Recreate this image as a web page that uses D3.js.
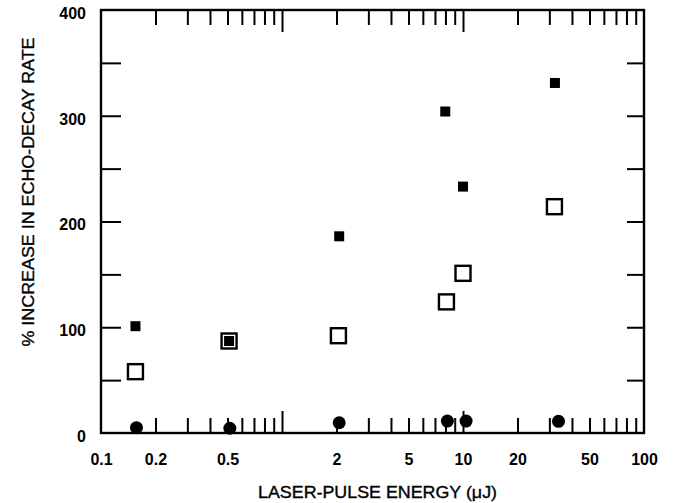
<!DOCTYPE html>
<html>
<head>
<meta charset="utf-8">
<script src="https://cdn.jsdelivr.net/npm/d3@7"></script>
<style>
html,body{margin:0;padding:0;background:#fff;}
svg{display:block;}
text{font-family:"Liberation Sans",Arial,Helvetica,sans-serif;fill:#000;}
</style>
</head>
<body>
<svg id="chart" width="674" height="503"></svg>
<script>
// ---- data ----
const filledSquareX = [0.155, 0.51, 2.07, 7.98, 10.0, 32.2];
const filledSquareY = [101, 87, 186, 304, 233, 331];
const openSquareX = [0.155, 0.51, 2.05, 8.1, 10.0, 32.0];
const openSquareY = [58, 87, 92, 124, 151, 214];
const circleX = [0.157, 0.515, 2.07, 8.2, 10.4, 33.7];
const circleY = [5, 4.5, 9.7, 11.3, 11.3, 11];
const xTickLabels = [0.1, 0.2, 0.5, 2, 5, 10, 20, 50, 100];
const xMinorTicks = [0.2,0.3,0.4,0.5,0.6,0.7,0.8,0.9,2,3,4,5,6,7,8,9,20,30,40,50,60,70,80,90];
const xMajorTicks = [1, 10];
const yTickLabels = [0, 100, 200, 300, 400];
const yTicks = [50, 100, 150, 200, 250, 300, 350];

const svg = d3.select("#chart");
const L = 101, T = 10, R = 644, B = 433;
const x = d3.scaleLog().domain([0.1, 100]).range([L, R]);
const y = d3.scaleLinear().domain([0, 400]).range([B, T]);

function styleAxis(g){
  g.select(".domain").remove();
  g.selectAll(".tick line").attr("stroke","#000").attr("stroke-width",2);
}

// bottom minor & major ticks
svg.append("g").attr("transform",`translate(0,${B})`)
  .call(d3.axisBottom(x).tickValues(xMinorTicks).tickSize(-15).tickFormat(""))
  .call(styleAxis);
svg.append("g").attr("transform",`translate(0,${B})`)
  .call(d3.axisBottom(x).tickValues(xMajorTicks).tickSize(-22).tickFormat(""))
  .call(styleAxis);
// top
svg.append("g").attr("transform",`translate(0,${T})`)
  .call(d3.axisTop(x).tickValues(xMinorTicks).tickSize(-15).tickFormat(""))
  .call(styleAxis);
svg.append("g").attr("transform",`translate(0,${T})`)
  .call(d3.axisTop(x).tickValues(xMajorTicks).tickSize(-22).tickFormat(""))
  .call(styleAxis);
// x labels
const xl = svg.append("g").attr("transform",`translate(0,${B})`)
  .call(d3.axisBottom(x).tickValues(xTickLabels).tickSize(0).tickPadding(21).tickFormat(d => String(d)));
xl.attr("font-size",null).attr("font-family",null);
xl.select(".domain").remove();
xl.selectAll("text").style("font-size","16px").style("font-weight","bold").attr("dy","0.69em")
  .style("font-family",'"Liberation Sans",Arial,sans-serif').attr("fill","#000");

// left / right ticks
svg.append("g").attr("transform",`translate(${L},0)`)
  .call(d3.axisLeft(y).tickValues(yTicks).tickSize(-20).tickFormat(""))
  .call(styleAxis);
svg.append("g").attr("transform",`translate(${R},0)`)
  .call(d3.axisRight(y).tickValues(yTicks).tickSize(-17).tickFormat(""))
  .call(styleAxis);
const yl = svg.append("g").attr("transform",`translate(${L},0)`)
  .call(d3.axisLeft(y).tickValues(yTickLabels).tickSize(0).tickPadding(15).tickFormat(d => String(d)));
yl.attr("font-size",null).attr("font-family",null);
yl.select(".domain").remove();
yl.selectAll("text").style("font-size","16px").style("font-weight","bold").attr("dy","0.53em")
  .style("font-family",'"Liberation Sans",Arial,sans-serif').attr("fill","#000");

// frame
svg.append("rect").attr("x",L).attr("y",T).attr("width",R-L).attr("height",B-T)
  .attr("fill","none").attr("stroke","#000").attr("stroke-width",2.4);

// axis titles
svg.append("text").attr("x",(258+497)/2).attr("y",498).attr("text-anchor","middle")
  .style("font-size","16.5px").attr("textLength",239).attr("lengthAdjust","spacingAndGlyphs")
  .attr("stroke","#000").attr("stroke-width",0.35)
  .text("LASER-PULSE ENERGY (\u03bcJ)");
svg.append("text").attr("transform","translate(34,192) rotate(-90)").attr("text-anchor","middle")
  .style("font-size","16px").attr("textLength",309).attr("lengthAdjust","spacingAndGlyphs")
  .attr("stroke","#000").attr("stroke-width",0.35)
  .text("% INCREASE IN ECHO-DECAY RATE");

// open squares
const os = 15;
svg.append("g").selectAll("rect").data(openSquareX.map((d,i)=>[d,openSquareY[i]])).join("rect")
  .attr("x",d=>x(d[0])-os/2).attr("y",d=>y(d[1])-os/2).attr("width",os).attr("height",os)
  .attr("fill","#fff").attr("stroke","#000").attr("stroke-width",2.4);
// filled squares
const fs = 10;
svg.append("g").selectAll("rect").data(filledSquareX.map((d,i)=>[d,filledSquareY[i]])).join("rect")
  .attr("x",d=>x(d[0])-fs/2).attr("y",d=>y(d[1])-fs/2).attr("width",fs).attr("height",fs)
  .attr("fill","#000");
// circles
svg.append("g").selectAll("circle").data(circleX.map((d,i)=>[d,circleY[i]])).join("circle")
  .attr("cx",d=>x(d[0])).attr("cy",d=>y(d[1])).attr("r",6.5).attr("fill","#000");
</script>
</body>
</html>
